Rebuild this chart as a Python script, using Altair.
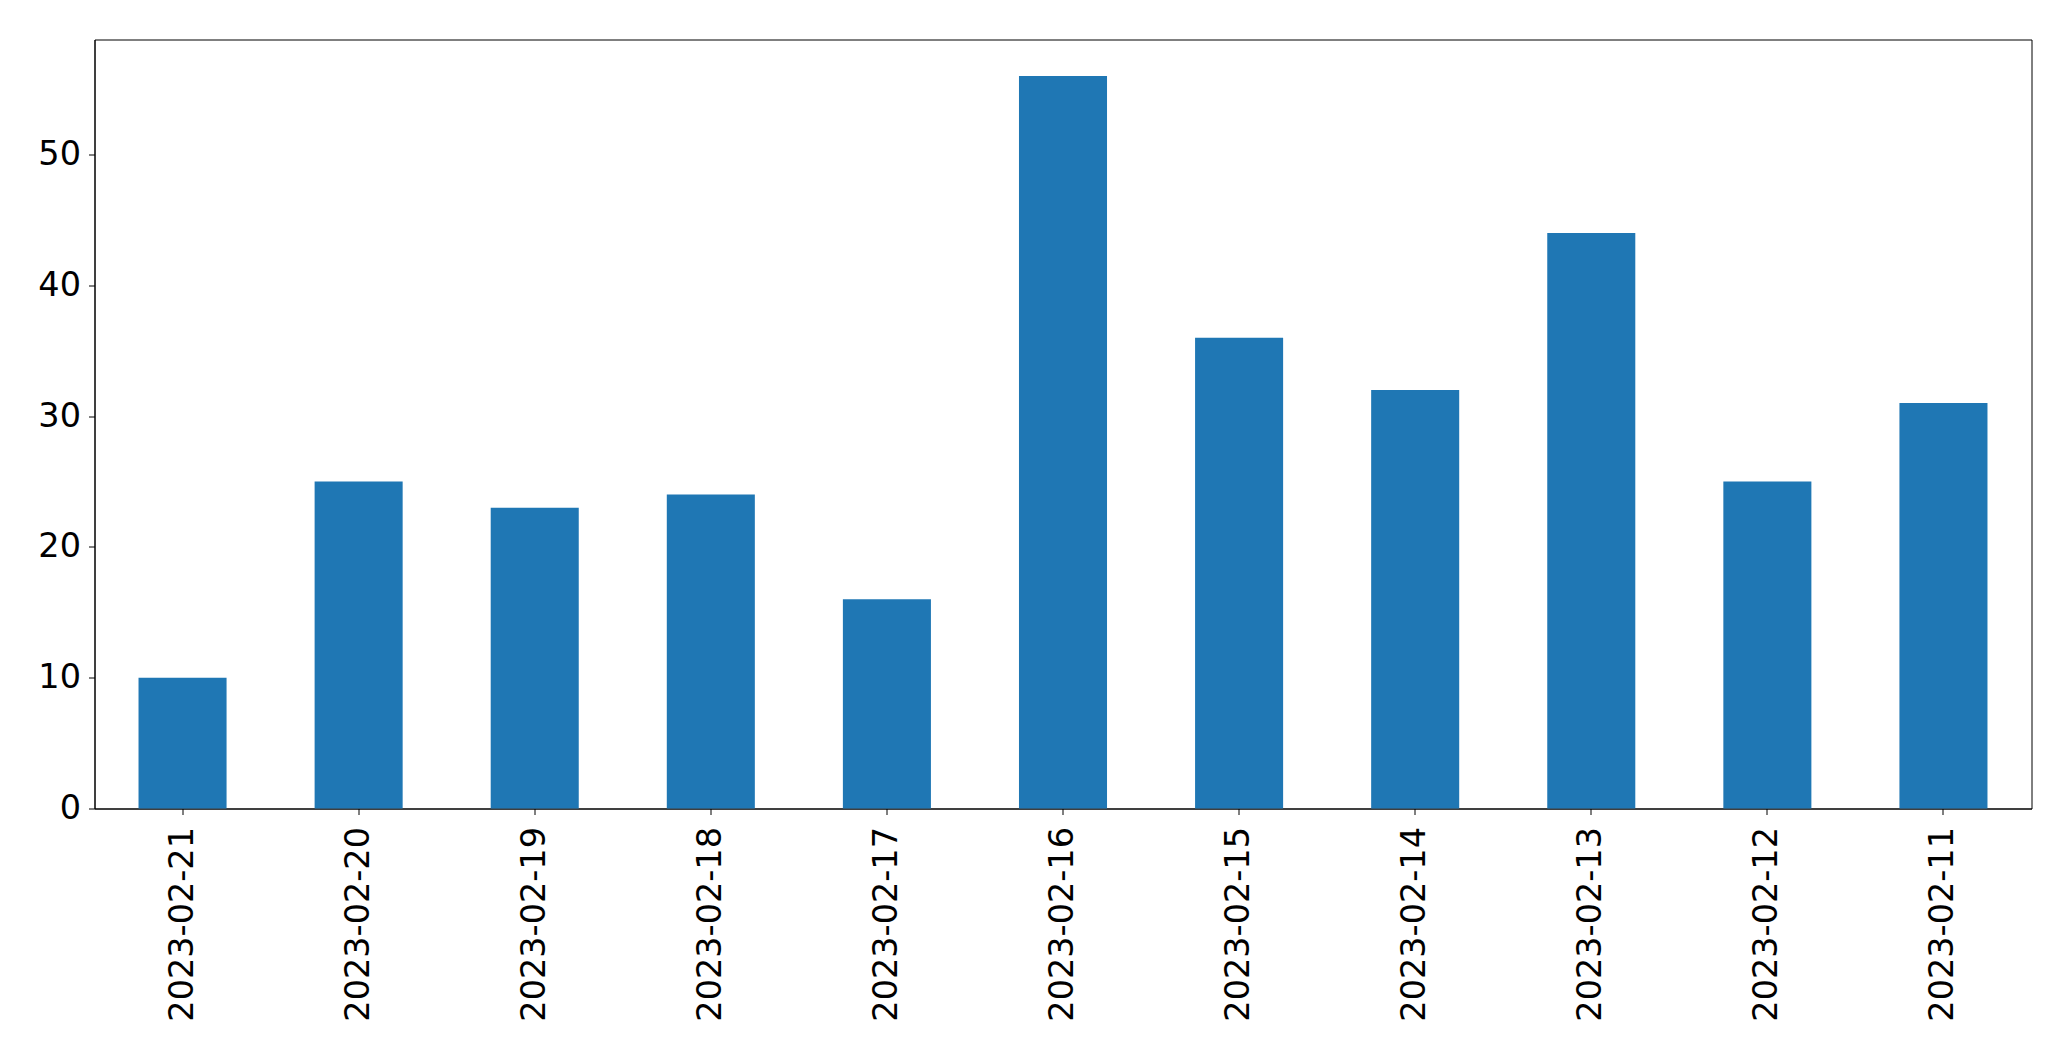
import altair as alt
import pandas as pd

dates = ["2023-02-21", "2023-02-20", "2023-02-19", "2023-02-18", "2023-02-17",
         "2023-02-16", "2023-02-15", "2023-02-14", "2023-02-13", "2023-02-12",
         "2023-02-11"]
counts = [10, 25, 23, 24, 16, 56, 36, 32, 44, 25, 31]
y_ticks = [0, 10, 20, 30, 40, 50]

df = pd.DataFrame({"date": dates, "count": counts})

FONT = "DejaVu Sans"

chart = alt.Chart(df).mark_bar(color="#1f77b4").encode(
    x=alt.X("date:N", sort=dates,
            scale=alt.Scale(paddingInner=0.5, paddingOuter=0.25),
            axis=alt.Axis(title=None, labelAngle=270, labelAlign="right",
                          labelBaseline="middle", labelPadding=12, labelLimit=0,
                          labelFontSize=33.5, labelFont=FONT, labelColor="black",
                          tickColor="black", tickSize=6, tickWidth=1,
                          domainColor="black", domainWidth=1, grid=False)),
    y=alt.Y("count:Q", scale=alt.Scale(domain=[0, 58.8], nice=False, zero=True),
            axis=alt.Axis(title=None, values=y_ticks, labelPadding=8,
                          labelFontSize=33.5, labelFont=FONT, labelColor="black",
                          tickColor="black", tickSize=6, tickWidth=1,
                          domainColor="black", domainWidth=1, grid=False)),
).properties(
    width=1937, height=769,
    autosize=alt.AutoSizeParams(type="none"),
    padding={"left": 86.5, "top": 31.5, "right": 16, "bottom": 220},
).configure_view(
    stroke="black", strokeWidth=1
)

chart.save("out.html", embed_options={"renderer": "svg", "actions": False})
